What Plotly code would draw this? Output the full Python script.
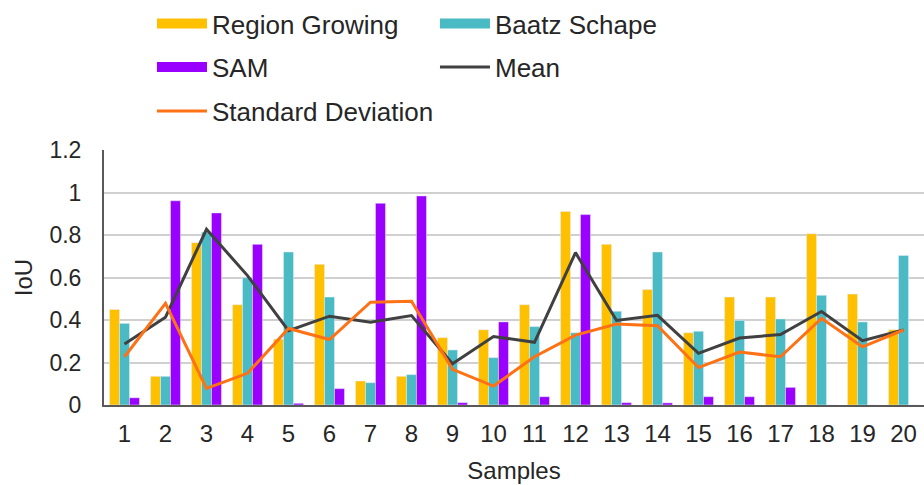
import plotly.graph_objects as go

samples = [str(i) for i in range(1, 21)]
region_growing = [0.450, 0.135, 0.764, 0.472, 0.310, 0.662, 0.113, 0.135, 0.317, 0.354,
                  0.472, 0.911, 0.756, 0.543, 0.340, 0.508, 0.508, 0.806, 0.522, 0.354]
baatz_schape = [0.384, 0.135, 0.813, 0.599, 0.720, 0.508, 0.105, 0.143, 0.259, 0.223,
                0.369, 0.340, 0.441, 0.720, 0.347, 0.398, 0.405, 0.516, 0.391, 0.704]
sam = [0.034, 0.961, 0.904, 0.756, 0.008, 0.077, 0.949, 0.984, 0.011, 0.391,
       0.039, 0.896, 0.011, 0.010, 0.039, 0.039, 0.083, 0.0, 0.0, 0.0]
mean = [0.287, 0.413, 0.827, 0.609, 0.350, 0.418, 0.389, 0.421, 0.194, 0.322,
        0.295, 0.717, 0.398, 0.422, 0.243, 0.315, 0.332, 0.440, 0.303, 0.353]
std_dev = [0.227, 0.478, 0.078, 0.149, 0.360, 0.308, 0.484, 0.488, 0.168, 0.089,
           0.227, 0.329, 0.381, 0.373, 0.176, 0.249, 0.227, 0.408, 0.274, 0.353]

C_RG = "#FFC000"
C_BS = "#4ABBC4"
C_SAM = "#9900FF"
C_MEAN = "#404040"
C_SD = "#FF7115"
FONT = "Liberation Sans, Arial, sans-serif"

fig = go.Figure()
fig.add_trace(go.Bar(x=samples, y=region_growing, name="Region Growing", marker_color=C_RG, showlegend=False))
fig.add_trace(go.Bar(x=samples, y=baatz_schape, name="Baatz Schape", marker_color=C_BS, showlegend=False))
fig.add_trace(go.Bar(x=samples, y=sam, name="SAM", marker_color=C_SAM, showlegend=False))
fig.add_trace(go.Scatter(x=samples, y=mean, name="Mean", mode="lines",
                         line=dict(color=C_MEAN, width=3), showlegend=False))
fig.add_trace(go.Scatter(x=samples, y=std_dev, name="Standard Deviation", mode="lines",
                         line=dict(color=C_SD, width=3), showlegend=False))

# legend entries (wide swatches like the original)
legend_items = [
    ("Region Growing", C_RG, 10, "legend"),
    ("Baatz Schape", C_BS, 10, "legend"),
    ("SAM", C_SAM, 10, "legend2"),
    ("Mean", C_MEAN, 3, "legend2"),
    ("Standard Deviation", C_SD, 3, "legend3"),
]
for name, col, w, lg in legend_items:
    fig.add_trace(go.Scatter(x=[None], y=[None], mode="lines", name=name,
                             line=dict(color=col, width=w), legend=lg, showlegend=True))

leg_common = dict(orientation="h", xanchor="left", yanchor="middle",
                  itemwidth=50, entrywidth=218, bgcolor="rgba(0,0,0,0)",
                  font=dict(family=FONT, size=26, color="#262626"), traceorder="normal")
fig.update_layout(
    legend=dict(x=0.0585, y=1.498, **leg_common),
    legend2=dict(x=0.0585, y=1.3255, **leg_common),
    legend3=dict(x=0.0585, y=1.153, **leg_common),
)

fig.update_layout(
    width=924, height=485,
    margin=dict(l=104, r=0, t=150, b=80),
    paper_bgcolor="white", plot_bgcolor="white",
    barmode="group", bargap=0.27, bargroupgap=0,
    font=dict(family=FONT, color="#262626"),
    xaxis=dict(
        type="category", showline=True, linecolor="#595959", linewidth=2,
        showgrid=False, ticks="", tickfont=dict(size=24, color="#262626"),
        ticklabelstandoff=6,
        title=dict(text="Samples", font=dict(size=24, color="#262626"), standoff=16),
    ),
    yaxis=dict(
        range=[0, 1.2], tickvals=[0, 0.2, 0.4, 0.6, 0.8, 1.0, 1.2],
        ticktext=["0", "0.2", "0.4", "0.6", "0.8", "1", "1.2"],
        showline=True, linecolor="#595959", linewidth=2,
        showgrid=True, gridcolor="#D0D0D0", gridwidth=1.5, zeroline=False,
        ticks="", tickfont=dict(size=23, color="#262626"), ticklabelstandoff=16,
        title=dict(text="IoU", font=dict(size=24, color="#262626"), standoff=10),
    ),
)

fig.write_html("out.html", config={"displayModeBar": False},
               post_script="document.body.style.margin='0';")
